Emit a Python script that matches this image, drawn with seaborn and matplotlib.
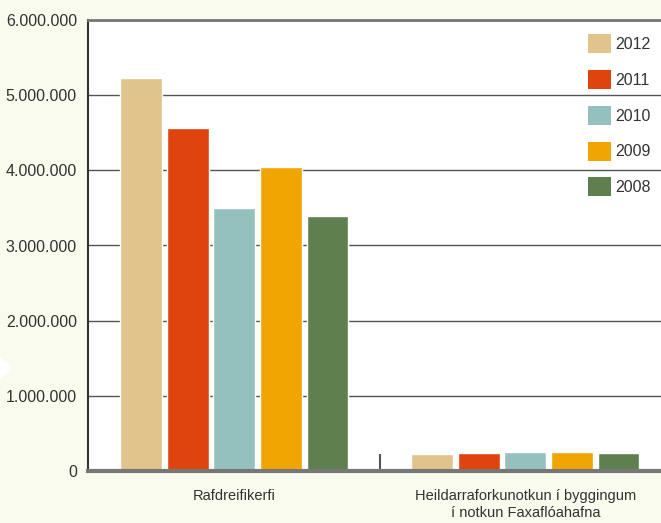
import matplotlib

matplotlib.use("Agg")
import matplotlib.pyplot as plt
import matplotlib.patches as mpatches
import numpy as np
import pandas as pd
import seaborn as sns

# Data
categories = ["Rafdreifikerfi", "Heildarraforkunotkun í byggingum\ní notkun Faxaflóahafna"]
years = ["2012", "2011", "2010", "2009", "2008"]
values_2012 = [5230000, 226000]
values_2011 = [4560000, 240000]
values_2010 = [3500000, 253000]
values_2009 = [4040000, 253000]
values_2008 = [3390000, 240000]
yticks = [0, 1000000, 2000000, 3000000, 4000000, 5000000, 6000000]
ytick_labels = ["0", "1.000.000", "2.000.000", "3.000.000", "4.000.000", "5.000.000", "6.000.000"]
colors = ["#E0C48C", "#E0440E", "#94C1BE", "#F0A500", "#5F804E"]

series = [values_2012, values_2011, values_2010, values_2009, values_2008]
df = pd.DataFrame(
    [
        {"flokkur": cat, "ar": yr, "gildi": vals[i]}
        for yr, vals in zip(years, series)
        for i, cat in enumerate(categories)
    ]
)

sns.set_style("white")
plt.rcParams["font.family"] = ["Liberation Sans", "DejaVu Sans"]

bg = "#F8FBEE"
text_col = "#333333"

fig = plt.figure(figsize=(6.61, 5.23), dpi=100, facecolor=bg)
ax = fig.add_axes([88 / 661, 52 / 523, 1 - 88 / 661, 451 / 523])
ax.set_facecolor("white")

sns.barplot(
    data=df,
    x="flokkur",
    y="gildi",
    hue="ar",
    hue_order=years,
    order=categories,
    palette=colors,
    width=0.8,
    gap=0.1,
    saturation=1,
    ax=ax,
    zorder=3,
)

ax.set_xlim(-0.503, 1.466)
ax.set_ylim(0, 6000000)
ax.set_yticks(yticks)
ax.set_yticklabels(ytick_labels, fontsize=11.5, color=text_col)
ax.set_xticks([0, 1])
ax.set_xticklabels(categories, fontsize=10.5, color=text_col, linespacing=1.3)
ax.tick_params(axis="x", length=0, pad=13)
ax.tick_params(axis="y", length=0, pad=8)
# small separator tick between the two groups
ax.set_xticks([0.5], minor=True)
ax.tick_params(axis="x", which="minor", bottom=True, direction="in",
               length=12, width=1.5, color="#555555")
ax.set_xlabel("")
ax.set_ylabel("")

# Gridlines
ax.grid(axis="y", color="#555555", linewidth=1, zorder=1)
ax.set_axisbelow(True)

for side in ["top", "bottom", "left", "right"]:
    ax.spines[side].set_visible(True)
ax.spines["right"].set_visible(False)
ax.spines["top"].set_color("#777777")
ax.spines["top"].set_linewidth(2)
ax.spines["bottom"].set_color("#777777")
ax.spines["bottom"].set_linewidth(3)
ax.spines["bottom"].set_zorder(4)
ax.spines["left"].set_color("#333333")
ax.spines["left"].set_linewidth(1.5)

# Legend
handles = [mpatches.Patch(facecolor=c, edgecolor="none") for c in colors]
ax.legend(
    handles,
    years,
    loc="upper left",
    bbox_to_anchor=(0.853, 0.993),
    frameon=False,
    fontsize=11.5,
    handlelength=1.45,
    handleheight=1.45,
    handletextpad=0.25,
    labelspacing=1.05,
    borderpad=0.2,
    labelcolor=text_col,
)

# Decorative white triangle on the left margin
tri = mpatches.Polygon(
    [[0, 1 - 357 / 523], [13 / 661, 1 - 368 / 523], [0, 1 - 379 / 523]],
    closed=True,
    transform=fig.transFigure,
    facecolor="white",
    edgecolor="none",
)
fig.patches.append(tri)

fig.savefig("out.png", dpi=100, facecolor=bg)
